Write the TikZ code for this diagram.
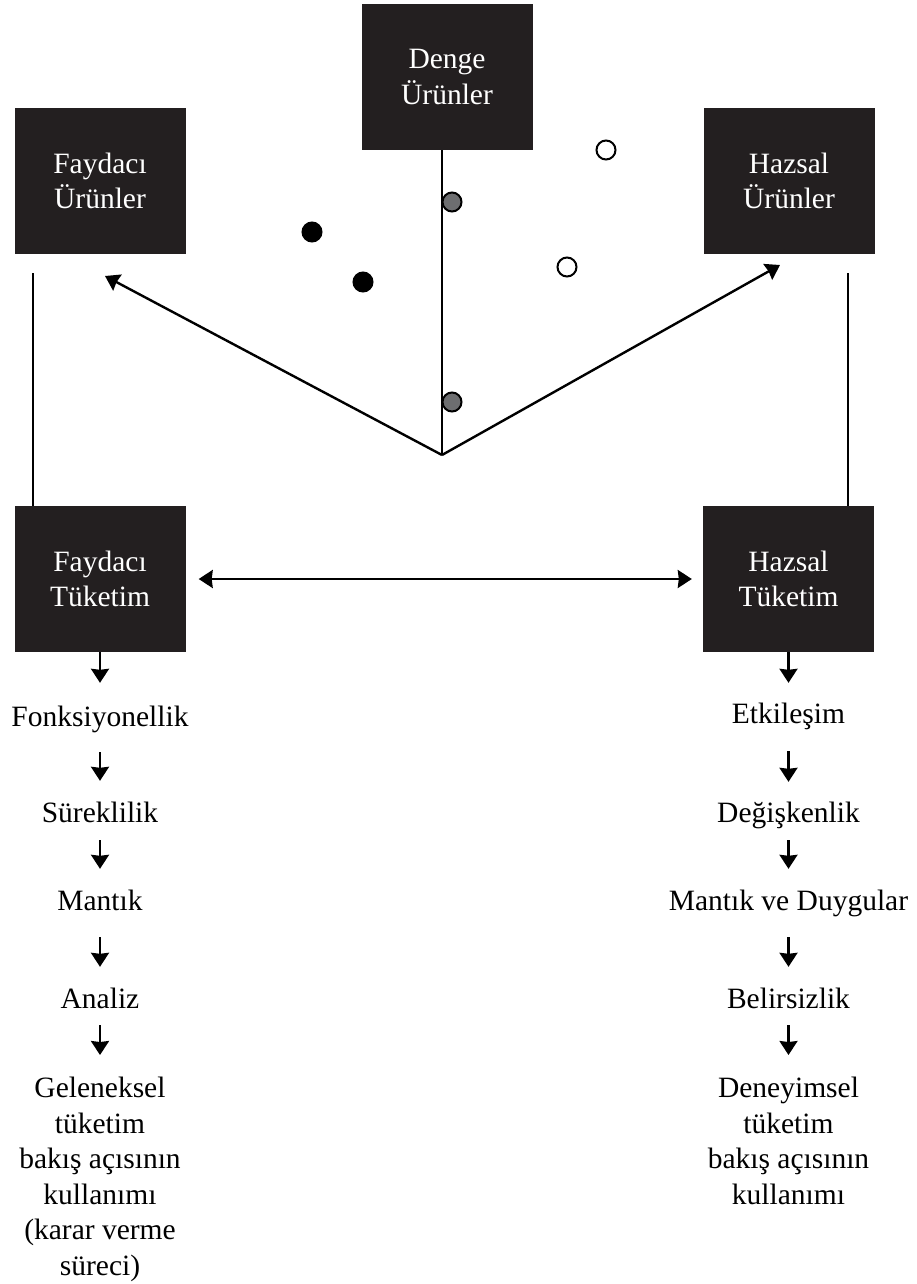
\documentclass[tikz,border=0pt]{standalone}
\usepackage{fontspec}
\setmainfont{Liberation Serif}
\usetikzlibrary{arrows.meta}
\definecolor{boxblack}{HTML}{231F20}
\definecolor{dotgray}{HTML}{6D6E70}
\begin{document}
\begin{tikzpicture}[x=1pt,y=-1pt,line cap=butt,line join=miter,>={Stealth[length=14pt,width=18pt,inset=1pt]},
	box/.style={fill=boxblack,text=white,minimum width=171pt,minimum height=146pt,align=center,inner sep=0pt,font=\fontsize{29.5}{35.5}\selectfont},
	item/.style={inner sep=0pt,text height=20pt,text depth=7pt,font=\fontsize{29.5}{35.5}\selectfont},
	lastitem/.style={inner sep=0pt,align=center,anchor=north,font=\fontsize{29.5}{35.5}\selectfont},
	dn/.style={->,line width=2.2pt},
	dot/.style={circle,draw,line width=2pt,minimum size=19pt,inner sep=0pt}]
		\useasboundingbox (0,0) rectangle (917,1284);
		\node (fu) at (100,181)[box]{Faydacı\\Ürünler};
		\node (du) at (447,77)[box]{Denge\\Ürünler};
		\node (hu) at (789,181)[box]{Hazsal\\Ürünler};
		\node (ft) at (100,579)[box]{Faydacı\\Tüketim};
		\node (ht) at (788.5,579)[box]{Hazsal\\Tüketim};
		\coordinate (o) at (442,455);
		\coordinate (fa) at (105,276);
		\coordinate (ha) at (780,265);
		\coordinate (fl) at (33,273);
		\coordinate (hl) at (848,273);
		\draw[line width=1.8pt] (o)--(o|-du.south);
		\draw[->,line width=2.4pt] (o)--(fa);
		\draw[->,line width=2.4pt] (o)--(ha);
		\draw[line width=1.8pt] (fl)--(fl|-ft.north) (hl)--(hl|-ht.north);
		\draw[<->,line width=2.4pt,shorten <=13pt,shorten >=11pt] (ft)--(ht);
		\node (b1) at (312,232)[dot,fill=black]{};
		\node (b2) at (363,282)[dot,fill=black]{};
		\node (g1) at (452,202)[dot,fill=dotgray]{};
		\node (g2) at (452,402)[dot,fill=dotgray]{};
		\node (w1) at (606,150)[dot,fill=white]{};
		\node (w2) at (567,267)[dot,fill=white]{};
		\node (f1) at (100,719.5)[item]{Fonksiyonellik};
		\node (f2) at (100,815.5)[item]{Süreklilik};
		\node (f3) at (100,903.5)[item]{Mantık};
		\node (f4) at (100,1001.5)[item]{Analiz};
		\node (f5) at (100,1077)[lastitem]{Geleneksel\\tüketim\\bakış açısının\\kullanımı\\(karar verme\\süreci)};
		\node (h1) at (788.5,716.5)[item]{Etkileşim};
		\node (h2) at (788.5,815.5)[item]{Değişkenlik};
		\node (h3) at (788.5,903.5)[item]{Mantık ve Duygular};
		\node (h4) at (788.5,1001.5)[item]{Belirsizlik};
		\node (h5) at (788.5,1077)[lastitem]{Deneyimsel\\tüketim\\bakış açısının\\kullanımı};
		\draw[dn,shorten >=23pt] (ft)--(f1);
		\draw[dn,shorten >=20pt] (ht)--(h1);
		\foreach \a/\b/\s/\e in {f1/f2/19/21,f2/f3/11/21,f3/f4/20/21,f4/f5/10/22,h1/h2/21/20,h2/h3/11/21,h3/h4/20/21,h4/h5/10/22}
			\draw[dn,shorten <=\s pt,shorten >=\e pt] (\a)--(\b);
	\end{tikzpicture}
\end{document}
